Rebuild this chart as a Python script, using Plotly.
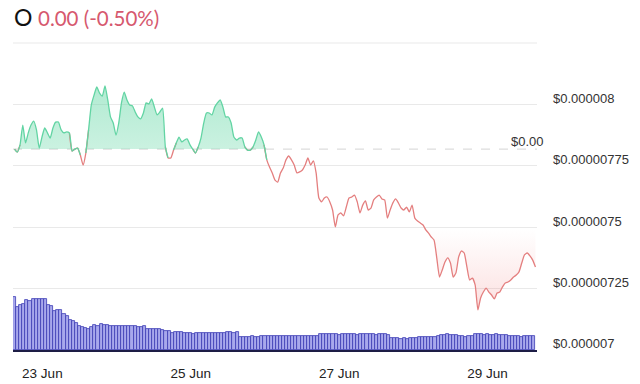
import pandas as pd
import plotly.graph_objects as go

# ---- data ----
# price in micro-USD (x 1e-6)
price_micro = [
    7.818, 7.806, 7.835, 7.916, 7.843, 7.884, 7.916, 7.932, 7.896, 7.822,
    7.867, 7.904, 7.884, 7.863, 7.904, 7.928, 7.928, 7.896, 7.884, 7.888,
    7.884, 7.810, 7.818, 7.822, 7.794, 7.753, 7.802, 7.896, 7.998, 8.038,
    8.071, 8.046, 8.034, 8.075, 8.018, 7.949, 7.924, 7.875, 7.924, 8.006,
    8.050, 8.018, 7.998, 7.994, 7.969, 7.949, 7.941, 7.965, 8.006, 8.002,
    8.022, 7.989, 7.957, 7.969, 7.985, 7.827, 7.782, 7.782, 7.814, 7.843,
    7.867, 7.847, 7.855, 7.859, 7.835, 7.818, 7.802, 7.827, 7.863, 7.924,
    7.965, 7.965, 7.957, 7.989, 8.006, 8.018, 7.989, 7.949, 7.949, 7.924,
    7.867, 7.855, 7.863, 7.863, 7.827, 7.814, 7.814, 7.827, 7.855, 7.888,
    7.867, 7.835, 7.774, 7.745, 7.721, 7.692, 7.684, 7.721, 7.741, 7.774,
    7.790, 7.774, 7.753, 7.721, 7.725, 7.733, 7.753, 7.782, 7.753, 7.770,
    7.721, 7.619, 7.603, 7.619, 7.623, 7.603, 7.570, 7.501, 7.550, 7.558,
    7.546, 7.582, 7.619, 7.623, 7.631, 7.603, 7.558, 7.590, 7.607, 7.570,
    7.578, 7.611, 7.623, 7.631, 7.615, 7.611, 7.537, 7.570, 7.599, 7.615,
    7.599, 7.578, 7.570, 7.582, 7.562, 7.590, 7.537, 7.525, 7.517, 7.509,
    7.489, 7.476, 7.460, 7.448, 7.375, 7.297, 7.326, 7.358, 7.375, 7.354,
    7.297, 7.314, 7.379, 7.403, 7.395, 7.338, 7.285, 7.293, 7.265, 7.163,
    7.212, 7.236, 7.252, 7.236, 7.224, 7.208, 7.232, 7.236, 7.257, 7.273,
    7.277, 7.285, 7.297, 7.305, 7.318, 7.354, 7.387, 7.395, 7.383, 7.366,
    7.338,
]
price_start = "2024-06-22 15:00"
price_end = "2024-06-29 15:30"

# hourly volume (arbitrary units)
volume = [
    53, 43, 45, 46, 50, 49, 51, 51, 51, 51, 51, 45, 44, 39, 40, 40, 36, 34, 30, 29,
    27, 24, 23, 22, 21, 23, 25, 24, 26, 25, 25, 24, 24, 24, 24, 24, 24, 24, 24, 24,
    23, 23, 24, 21, 21, 21, 21, 21, 20, 19, 19, 17, 18, 18, 18, 17, 17, 17, 16.5, 17,
    17, 17, 17, 17, 17, 17, 17, 17.5, 17.5, 18, 18, 17.5, 18.5, 13.5, 13.5, 13.5, 13.5, 14, 13.5, 13.5,
    14, 14, 14, 14, 14, 14, 14, 14.5, 14.5, 14, 14, 14.5, 14.5, 14.5, 14, 14, 14, 14, 14,
    16, 16.5, 16, 16, 16.5, 16, 15.5, 16, 16, 16.5, 16, 16, 15.5, 16, 16, 16.5, 16, 16, 15.5, 16, 16, 16, 15,
    12.5, 12, 12, 11.5, 12, 11.5, 12, 12, 12.5,
    13, 13, 13.5, 13, 13, 13.5, 14,
    15, 15.5, 16, 15.5, 15, 15.5,
    14, 14, 13.5, 14, 14.5,
    16, 16, 16, 15.5, 16, 15.5, 15, 16, 15.5, 15, 15,
    14.5, 14, 14, 14, 13.5, 14, 14, 14, 14,
]
volume_start = "2024-06-22 15:00"

date_ticks = ["2024-06-23", "2024-06-25", "2024-06-27", "2024-06-29"]
date_labels = ["23 Jun", "25 Jun", "27 Jun", "29 Jun"]
price_ticks = [7.0, 7.25, 7.5, 7.75, 8.0]
price_labels = ["$0.000007", "$0.00000725", "$0.0000075", "$0.00000775", "$0.000008"]

header_symbol = "O"
header_change = "0.00 (-0.50%)"
baseline_label = "$0.00"

# ---- derived ----
prices = [p * 1e-6 for p in price_micro]
t_price = pd.date_range(price_start, price_end, periods=len(prices))
t_vol = pd.date_range(volume_start, periods=len(volume), freq="h")
base = prices[0]
n = len(prices)

upper = [max(p, base) for p in prices]
lower = [min(p, base) for p in prices]

def seg(cond):
    out = []
    for i in range(n):
        ok = cond(prices[i]) or (i > 0 and cond(prices[i - 1])) or (i < n - 1 and cond(prices[i + 1]))
        out.append(prices[i] if ok else None)
    return out

green_line = seg(lambda v: v >= base)
red_line = seg(lambda v: v < base)

GREEN = "#62d4a3"
RED = "#e47f7f"
SM = 0.5

fig = go.Figure()

fig.add_trace(go.Bar(
    x=t_vol, y=volume, yaxis="y2",
    marker=dict(color="#a8a8ec", line=dict(width=0.8, color="#3c3cb4")),
    hoverinfo="skip",
))

# baseline + green fill
fig.add_trace(go.Scatter(x=t_price, y=[base] * n, mode="lines",
                         line=dict(width=0, shape="spline", smoothing=SM), hoverinfo="skip"))
fig.add_trace(go.Scatter(
    x=t_price, y=upper, mode="lines", fill="tonexty",
    line=dict(width=0, shape="spline", smoothing=SM),
    fillgradient=dict(type="vertical", start=base, stop=8.1e-6,
                      colorscale=[[0, "rgba(100,215,165,0.34)"], [1, "rgba(100,215,165,0.52)"]]),
    hoverinfo="skip"))
# baseline + red fill
fig.add_trace(go.Scatter(x=t_price, y=[base] * n, mode="lines",
                         line=dict(width=0, shape="spline", smoothing=SM), hoverinfo="skip"))
fig.add_trace(go.Scatter(
    x=t_price, y=lower, mode="lines", fill="tonexty",
    line=dict(width=0, shape="spline", smoothing=SM),
    fillgradient=dict(type="vertical", start=base, stop=7.0e-6,
                      colorscale=[[0, "rgba(240,120,120,0.0)"], [0.4, "rgba(240,120,120,0.0)"],
                                  [1, "rgba(240,120,120,0.35)"]]),
    hoverinfo="skip"))

fig.add_trace(go.Scatter(x=t_price, y=red_line, mode="lines", connectgaps=False,
                         line=dict(color=RED, width=1.3, shape="spline", smoothing=SM), hoverinfo="skip"))
fig.add_trace(go.Scatter(x=t_price, y=green_line, mode="lines", connectgaps=False,
                         line=dict(color=GREEN, width=1.3, shape="spline", smoothing=SM), hoverinfo="skip"))

# top border gridline
fig.add_shape(type="line", xref="paper", yref="paper", x0=0, x1=1, y0=1, y1=1,
              line=dict(color="#e9e9e9", width=1))
# dashed baseline
fig.add_shape(type="line", xref="paper", yref="y", x0=0, x1=1, y0=base, y1=base,
              line=dict(color="#d4d4d4", width=1, dash="dash"), layer="below")

fig.add_annotation(xref="paper", yref="y", x=1, y=base, xanchor="right", yanchor="middle",
                   xshift=9, yshift=8, text=baseline_label, showarrow=False,
                   font=dict(family="Liberation Sans, Arial", size=13, color="#333333"))

fig.add_annotation(xref="paper", yref="paper", x=0, y=1, xanchor="left", yanchor="middle",
                   xshift=-1, yshift=26, text=header_symbol, showarrow=False,
                   font=dict(family="Lato", size=23, color="#111111"))
fig.add_annotation(xref="paper", yref="paper", x=0, y=1, xanchor="left", yanchor="middle",
                   xshift=23, yshift=25, text=header_change, showarrow=False,
                   font=dict(family="Lato", size=20.5, color="#d6586e"))

fig.update_layout(
    width=640, height=384, autosize=False,
    margin=dict(l=13, r=103, t=43, b=34),
    paper_bgcolor="white", plot_bgcolor="white",
    showlegend=False, bargap=0,
    xaxis=dict(
        type="date", range=["2024-06-22 14:30", "2024-06-29 16:00"],
        tickvals=date_ticks, ticktext=date_labels, automargin=False,
        showgrid=False, zeroline=False,
        showline=True, linecolor="#1d1d45", linewidth=2,
        ticks="", ticklabelstandoff=10,
        tickfont=dict(family="Liberation Sans, Arial", size=13.5, color="#222222"),
    ),
    yaxis=dict(
        range=[7.0e-6, 8.25e-6], side="right", automargin=False,
        tickvals=[v * 1e-6 for v in price_ticks], ticktext=price_labels,
        ticklabelposition="outside top", ticks="", ticklabelstandoff=15, ticklabelshift=3,
        showgrid=True, gridcolor="#e9e9e9", gridwidth=1, zeroline=False, showline=False,
        tickfont=dict(family="Liberation Sans, Arial", size=13, color="#333333"),
    ),
    yaxis2=dict(range=[0, 307], overlaying="y", visible=False),
)

post = (
    "document.documentElement.style.margin='0px';"
    "document.body.style.margin='0px';document.body.style.padding='0px';"
    "document.body.style.overflow='hidden';"
)

fig.write_html("out.html", post_script=post,
               config={"displayModeBar": False, "responsive": False})
